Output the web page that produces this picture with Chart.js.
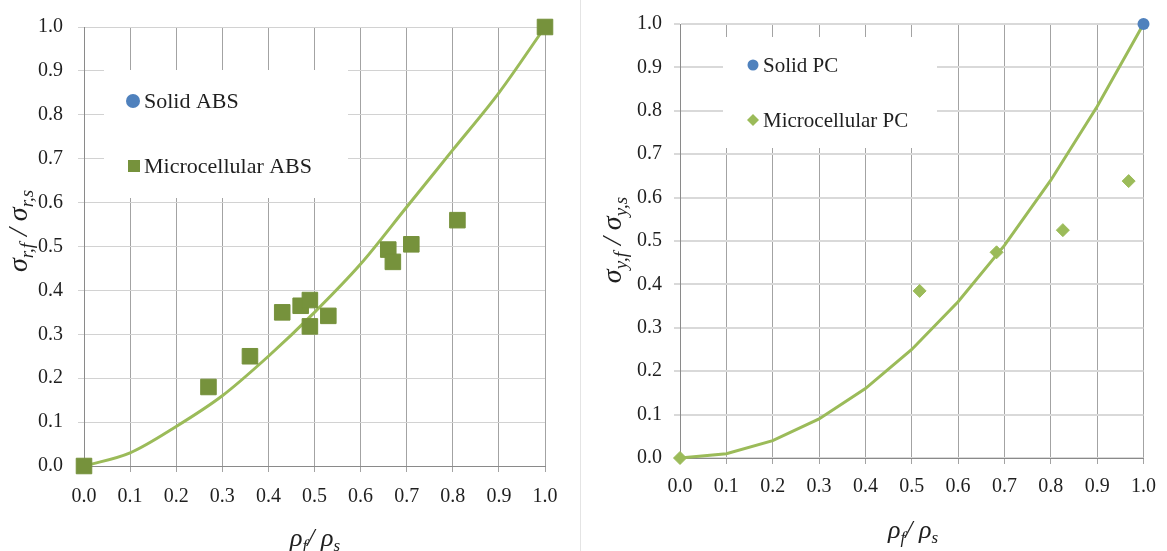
<!DOCTYPE html>
<html>
<head>
<meta charset="utf-8">
<script src="https://cdn.jsdelivr.net/npm/chart.js@4/dist/chart.umd.min.js"></script>
<style>
  html, body { margin: 0; padding: 0; background: #fff; }
  #wrap { position: relative; width: 1167px; height: 551px; overflow: hidden; background: #fff; }
  #wrap canvas { position: absolute; top: 0; }
  #divider { position: absolute; left: 580px; top: 0; width: 1px; height: 551px; background: #e4e4e4; }
</style>
</head>
<body>
<div id="wrap">
  <canvas id="absChart" width="580" height="551" style="left:0"></canvas>
  <div id="divider"></div>
  <canvas id="pcChart" width="586" height="551" style="left:581px"></canvas>
</div>
<script>
// Axis ticks shared by both panels
const tickValues = [0, 0.1, 0.2, 0.3, 0.4, 0.5, 0.6, 0.7, 0.8, 0.9, 1.0];
const tickLabels = ['0.0', '0.1', '0.2', '0.3', '0.4', '0.5', '0.6', '0.7', '0.8', '0.9', '1.0'];

// ABS: relative density vs relative strength
const absFoamDensity  = [0, 0.27, 0.36, 0.43, 0.47, 0.49, 0.49, 0.53, 0.66, 0.67, 0.71, 0.81, 1.0];
const absFoamStrength = [0, 0.18, 0.25, 0.35, 0.365, 0.378, 0.318, 0.342, 0.493, 0.465, 0.505, 0.56, 1.0];
const absSolidDensity  = [1.0];
const absSolidStrength = [1.0];
const absModelDensity  = [0, 0.1, 0.2, 0.3, 0.4, 0.5, 0.6, 0.7, 0.8, 0.9, 1.0];
const absModelStrength = [0, 0.03, 0.09, 0.16, 0.25, 0.35, 0.46, 0.59, 0.72, 0.85, 1.0];

// PC: relative density vs relative yield strength
const pcFoamDensity  = [0, 0.517, 0.683, 0.826, 0.968];
const pcFoamStrength = [0, 0.385, 0.474, 0.525, 0.638];
const pcSolidDensity  = [1.0];
const pcSolidStrength = [1.0];
const pcModelDensity  = [0, 0.1, 0.2, 0.3, 0.4, 0.5, 0.6, 0.7, 0.8, 0.9, 1.0];
const pcModelStrength = [0, 0.01, 0.04, 0.09, 0.16, 0.25, 0.36, 0.49, 0.64, 0.81, 1.0];

const toPoints = (xs, ys) => xs.map((x, i) => ({ x: x, y: ys[i] }));

const BLUE = '#4F81BD';
const DARK_GREEN = '#76923C';
const LIGHT_GREEN = '#9BBB59';
const TEXT = '#1f1f1f';
const SERIF = "'Liberation Serif', 'DejaVu Serif', serif";

function drawMarker(ctx, style, x, y, r, color) {
  ctx.fillStyle = color;
  ctx.beginPath();
  if (style === 'rect') {
    ctx.rect(x - r, y - r, 2 * r, 2 * r);
  } else if (style === 'rectRot') {
    ctx.moveTo(x, y - r); ctx.lineTo(x + r, y); ctx.lineTo(x, y + r); ctx.lineTo(x - r, y);
    ctx.closePath();
  } else {
    ctx.arc(x, y, r, 0, Math.PI * 2);
  }
  ctx.fill();
}

// Text with subscripts: parts = [[text, isSub], ...]
function richWidth(ctx, parts, t) {
  let w = 0;
  parts.forEach(p => { ctx.font = p[1] ? t.subFont : t.font; w += ctx.measureText(p[0]).width; });
  return w;
}
function drawRich(ctx, parts, t) {
  const w = richWidth(ctx, parts, t);
  let x = -w / 2;
  ctx.fillStyle = TEXT;
  ctx.textBaseline = 'alphabetic';
  ctx.textAlign = 'left';
  parts.forEach(p => {
    ctx.font = p[1] ? t.subFont : t.font;
    ctx.fillText(p[0], x, p[1] ? t.subShift : 0);
    x += ctx.measureText(p[0]).width;
  });
}

// Inset legend box and axis titles
const panelDecor = {
  id: 'panelDecor',
  beforeDatasetsDraw(chart, args, opts) {
    const ctx = chart.ctx;
    const b = opts.legend;
    ctx.save();
    ctx.fillStyle = '#ffffff';
    ctx.fillRect(b.x, b.y, b.w, b.h);
    b.items.forEach(it => {
      const ds = chart.data.datasets[it.dataset];
      drawMarker(ctx, ds.pointStyle, it.mx, it.my, it.r, ds.backgroundColor);
      ctx.font = b.font;
      ctx.fillStyle = TEXT;
      ctx.textAlign = 'left';
      ctx.textBaseline = 'middle';
      ctx.fillText(ds.label, it.tx, it.my + 1);
    });
    ctx.restore();
  },
  afterDraw(chart, args, opts) {
    const ctx = chart.ctx;
    const xt = opts.xTitle, yt = opts.yTitle;
    ctx.save();
    ctx.translate(xt.cx, xt.cy);
    drawRich(ctx, xt.parts, xt);
    ctx.restore();
    ctx.save();
    ctx.translate(yt.cx, yt.cy);
    ctx.rotate(-Math.PI / 2);
    drawRich(ctx, yt.parts, yt);
    ctx.restore();
  }
};

function axisOptions(cfg) {
  const tickFont = { family: SERIF, size: 20 };
  return {
    x: {
      type: 'linear', min: 0, max: 1,
      afterBuildTicks: s => { s.ticks = tickValues.map(v => ({ value: v })); },
      afterFit: s => { s.height = cfg.xHeight; },
      ticks: { font: tickFont, color: TEXT, padding: cfg.xPad, maxRotation: 0, autoSkip: false,
               callback: (v, i) => tickLabels[i] },
      grid: { color: '#a3a3a3', lineWidth: 1, tickLength: 6 },
      border: { color: '#8a8a8a', width: 1 }
    },
    y: {
      type: 'linear', min: 0, max: 1,
      afterBuildTicks: s => { s.ticks = tickValues.map(v => ({ value: v })); },
      afterFit: s => { s.width = cfg.yWidth; },
      ticks: { font: tickFont, color: TEXT, padding: cfg.yPad, autoSkip: false,
               callback: (v, i) => tickLabels[i] },
      grid: { color: cfg.hGridColor, lineWidth: cfg.hGridWidth, tickLength: 6 },
      border: { color: '#8a8a8a', width: 1 }
    }
  };
}

const subtitleParts = (a, b) => [['σ', 0], [a, 1], [' / ', 0], ['σ', 0], [b, 1]];
const densityParts = [['ρ', 0], ['f', 1], ['/ ', 0], ['ρ', 0], ['s', 1]];

// Left panel: ABS
new Chart(document.getElementById('absChart'), {
  type: 'scatter',
  data: {
    datasets: [
      { label: 'Solid ABS', data: toPoints(absSolidDensity, absSolidStrength), clip: false,
        pointStyle: 'circle', pointRadius: 7, backgroundColor: BLUE, borderColor: BLUE, borderWidth: 0, order: 1 },
      { label: 'Microcellular ABS', data: toPoints(absFoamDensity, absFoamStrength), clip: false,
        pointStyle: 'rect', pointRadius: 11, backgroundColor: DARK_GREEN, borderColor: DARK_GREEN, borderWidth: 1, order: 0 },
      { label: 'Model', data: toPoints(absModelDensity, absModelStrength), clip: false,
        showLine: true, cubicInterpolationMode: 'monotone', pointRadius: 0,
        borderColor: LIGHT_GREEN, backgroundColor: LIGHT_GREEN, borderWidth: 3, order: 2 }
    ]
  },
  options: {
    responsive: false, animation: false, devicePixelRatio: 1,
    layout: { padding: { top: 24, right: 35, left: 0, bottom: 0 } },
    plugins: {
      legend: { display: false }, tooltip: { enabled: false },
      panelDecor: {
        legend: {
          x: 104, y: 70, w: 244, h: 128, font: '22px ' + SERIF,
          items: [
            { dataset: 0, mx: 133, my: 101, r: 7, tx: 144 },
            { dataset: 1, mx: 134, my: 166, r: 6, tx: 144 }
          ]
        },
        xTitle: { cx: 315, cy: 546, font: 'italic 26px ' + SERIF, subFont: 'italic 17px ' + SERIF, subShift: 5,
                  parts: densityParts },
        yTitle: { cx: 27, cy: 231, font: 'italic 28px ' + SERIF, subFont: 'italic 19px ' + SERIF, subShift: 6,
                  parts: subtitleParts('r,f', 'r,s') }
      }
    },
    scales: axisOptions({ xHeight: 85, yWidth: 84, xPad: 13, yPad: 15, hGridColor: '#d2d2d2', hGridWidth: 1 })
  },
  plugins: [panelDecor]
});

// Right panel: PC
new Chart(document.getElementById('pcChart'), {
  type: 'scatter',
  data: {
    datasets: [
      { label: 'Solid PC', data: toPoints(pcSolidDensity, pcSolidStrength), clip: false,
        pointStyle: 'circle', pointRadius: 6, backgroundColor: BLUE, borderColor: BLUE, borderWidth: 0, order: 0 },
      { label: 'Microcellular PC', data: toPoints(pcFoamDensity, pcFoamStrength), clip: false,
        pointStyle: 'rectRot', pointRadius: 6.5, backgroundColor: LIGHT_GREEN, borderColor: LIGHT_GREEN, borderWidth: 1, order: 1 },
      { label: 'Model', data: toPoints(pcModelDensity, pcModelStrength), clip: false,
        showLine: true, tension: 0, pointRadius: 0,
        borderColor: LIGHT_GREEN, backgroundColor: LIGHT_GREEN, borderWidth: 3, order: 2 }
    ]
  },
  options: {
    responsive: false, animation: false, devicePixelRatio: 1,
    layout: { padding: { top: 16, right: 22, left: 0, bottom: 0 } },
    plugins: {
      legend: { display: false }, tooltip: { enabled: false },
      panelDecor: {
        legend: {
          x: 142, y: 37, w: 214, h: 111, font: '21px ' + SERIF,
          items: [
            { dataset: 0, mx: 172, my: 65, r: 5.5, tx: 182 },
            { dataset: 1, mx: 172, my: 120, r: 6, tx: 182 }
          ]
        },
        xTitle: { cx: 332, cy: 538, font: 'italic 26px ' + SERIF, subFont: 'italic 17px ' + SERIF, subShift: 5,
                  parts: densityParts },
        yTitle: { cx: 40, cy: 240, font: 'italic 28px ' + SERIF, subFont: 'italic 19px ' + SERIF, subShift: 6,
                  parts: subtitleParts('y,f', 'y,s') }
      }
    },
    scales: axisOptions({ xHeight: 93, yWidth: 99, xPad: 11, yPad: 12, hGridColor: '#d9d9d9', hGridWidth: 2 })
  },
  plugins: [panelDecor]
});
</script>
</body>
</html>
